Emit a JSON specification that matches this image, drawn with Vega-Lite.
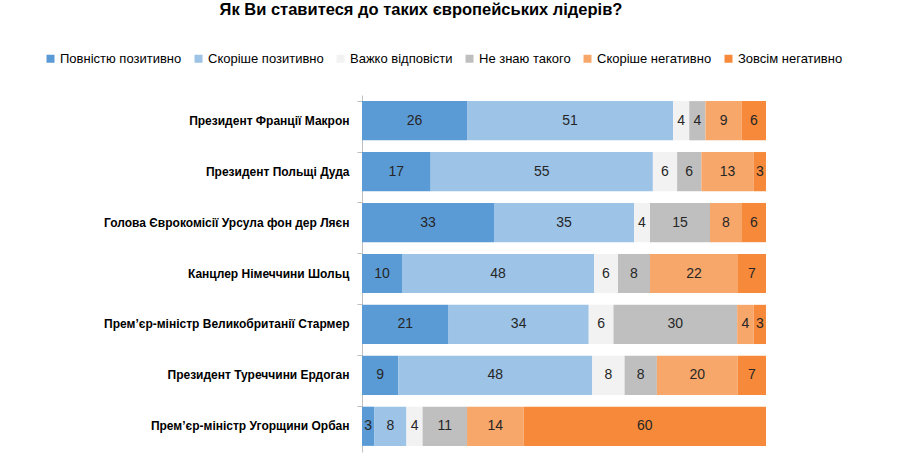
{
  "$schema": "https://vega.github.io/schema/vega-lite/v6.json",
  "autosize": "none",
  "width": 404,
  "height": 357,
  "padding": {"left": 362, "top": 95, "right": 140, "bottom": 24},
  "background": "#ffffff",
  "title": {
    "text": "Як Ви ставитеся до таких європейських лідерів?",
    "anchor": "middle",
    "dx": -143,
    "font": "Liberation Sans",
    "fontSize": 16.5,
    "fontWeight": "bold",
    "color": "#000000",
    "offset": 34
  },
  "data": {
    "values": [
      {"leader": "Президент Франції Макрон", "cat": "Повністю позитивно", "k": 1, "v": 26},
      {"leader": "Президент Франції Макрон", "cat": "Скоріше позитивно", "k": 2, "v": 51},
      {"leader": "Президент Франції Макрон", "cat": "Важко відповісти", "k": 3, "v": 4},
      {"leader": "Президент Франції Макрон", "cat": "Не знаю такого", "k": 4, "v": 4},
      {"leader": "Президент Франції Макрон", "cat": "Скоріше негативно", "k": 5, "v": 9},
      {"leader": "Президент Франції Макрон", "cat": "Зовсім негативно", "k": 6, "v": 6},
      {"leader": "Президент Польщі Дуда", "cat": "Повністю позитивно", "k": 1, "v": 17},
      {"leader": "Президент Польщі Дуда", "cat": "Скоріше позитивно", "k": 2, "v": 55},
      {"leader": "Президент Польщі Дуда", "cat": "Важко відповісти", "k": 3, "v": 6},
      {"leader": "Президент Польщі Дуда", "cat": "Не знаю такого", "k": 4, "v": 6},
      {"leader": "Президент Польщі Дуда", "cat": "Скоріше негативно", "k": 5, "v": 13},
      {"leader": "Президент Польщі Дуда", "cat": "Зовсім негативно", "k": 6, "v": 3},
      {"leader": "Голова Єврокомісії Урсула фон дер Ляєн", "cat": "Повністю позитивно", "k": 1, "v": 33},
      {"leader": "Голова Єврокомісії Урсула фон дер Ляєн", "cat": "Скоріше позитивно", "k": 2, "v": 35},
      {"leader": "Голова Єврокомісії Урсула фон дер Ляєн", "cat": "Важко відповісти", "k": 3, "v": 4},
      {"leader": "Голова Єврокомісії Урсула фон дер Ляєн", "cat": "Не знаю такого", "k": 4, "v": 15},
      {"leader": "Голова Єврокомісії Урсула фон дер Ляєн", "cat": "Скоріше негативно", "k": 5, "v": 8},
      {"leader": "Голова Єврокомісії Урсула фон дер Ляєн", "cat": "Зовсім негативно", "k": 6, "v": 6},
      {"leader": "Канцлер Німеччини Шольц", "cat": "Повністю позитивно", "k": 1, "v": 10},
      {"leader": "Канцлер Німеччини Шольц", "cat": "Скоріше позитивно", "k": 2, "v": 48},
      {"leader": "Канцлер Німеччини Шольц", "cat": "Важко відповісти", "k": 3, "v": 6},
      {"leader": "Канцлер Німеччини Шольц", "cat": "Не знаю такого", "k": 4, "v": 8},
      {"leader": "Канцлер Німеччини Шольц", "cat": "Скоріше негативно", "k": 5, "v": 22},
      {"leader": "Канцлер Німеччини Шольц", "cat": "Зовсім негативно", "k": 6, "v": 7},
      {"leader": "Прем’єр-міністр Великобританії Стармер", "cat": "Повністю позитивно", "k": 1, "v": 21},
      {"leader": "Прем’єр-міністр Великобританії Стармер", "cat": "Скоріше позитивно", "k": 2, "v": 34},
      {"leader": "Прем’єр-міністр Великобританії Стармер", "cat": "Важко відповісти", "k": 3, "v": 6},
      {"leader": "Прем’єр-міністр Великобританії Стармер", "cat": "Не знаю такого", "k": 4, "v": 30},
      {"leader": "Прем’єр-міністр Великобританії Стармер", "cat": "Скоріше негативно", "k": 5, "v": 4},
      {"leader": "Прем’єр-міністр Великобританії Стармер", "cat": "Зовсім негативно", "k": 6, "v": 3},
      {"leader": "Президент Туреччини Ердоган", "cat": "Повністю позитивно", "k": 1, "v": 9},
      {"leader": "Президент Туреччини Ердоган", "cat": "Скоріше позитивно", "k": 2, "v": 48},
      {"leader": "Президент Туреччини Ердоган", "cat": "Важко відповісти", "k": 3, "v": 8},
      {"leader": "Президент Туреччини Ердоган", "cat": "Не знаю такого", "k": 4, "v": 8},
      {"leader": "Президент Туреччини Ердоган", "cat": "Скоріше негативно", "k": 5, "v": 20},
      {"leader": "Президент Туреччини Ердоган", "cat": "Зовсім негативно", "k": 6, "v": 7},
      {"leader": "Прем’єр-міністр Угорщини Орбан", "cat": "Повністю позитивно", "k": 1, "v": 3},
      {"leader": "Прем’єр-міністр Угорщини Орбан", "cat": "Скоріше позитивно", "k": 2, "v": 8},
      {"leader": "Прем’єр-міністр Угорщини Орбан", "cat": "Важко відповісти", "k": 3, "v": 4},
      {"leader": "Прем’єр-міністр Угорщини Орбан", "cat": "Не знаю такого", "k": 4, "v": 11},
      {"leader": "Прем’єр-міністр Угорщини Орбан", "cat": "Скоріше негативно", "k": 5, "v": 14},
      {"leader": "Прем’єр-міністр Угорщини Орбан", "cat": "Зовсім негативно", "k": 6, "v": 60}
    ]
  },
  "encoding": {
    "y": {
      "field": "leader",
      "type": "nominal",
      "sort": null,
      "title": null,
      "scale": {"paddingInner": 0.23, "paddingOuter": 0.12},
      "axis": {
        "bandPosition": 0,
        "domainColor": "#bfbfbf",
        "tickColor": "#bfbfbf",
        "tickSize": 5,
        "labelPadding": 8,
        "labelFont": "Liberation Sans",
        "labelFontSize": 12,
        "labelFontWeight": "bold",
        "labelColor": "#000000",
        "labelLimit": 400
      }
    },
    "x": {
      "field": "v",
      "type": "quantitative",
      "stack": "normalize",
      "axis": null
    },
    "order": {"field": "k", "type": "quantitative"}
  },
  "layer": [
    {
      "mark": {"type": "bar"},
      "encoding": {
        "color": {
          "field": "cat",
          "type": "nominal",
          "sort": ["Повністю позитивно", "Скоріше позитивно", "Важко відповісти", "Не знаю такого", "Скоріше негативно", "Зовсім негативно"],
          "scale": {
            "domain": ["Повністю позитивно", "Скоріше позитивно", "Важко відповісти", "Не знаю такого", "Скоріше негативно", "Зовсім негативно"],
            "range": ["#5b9bd5", "#9dc3e6", "#f2f2f2", "#bfbfbf", "#f8a76b", "#f68a3a"]
          },
          "legend": {
            "title": null,
            "orient": "none",
            "direction": "horizontal",
            "legendX": -318,
            "legendY": -43,
            "symbolType": "square",
            "symbolSize": 64,
            "symbolStrokeWidth": 0,
            "labelFont": "Liberation Sans",
            "labelFontSize": 13,
            "labelColor": "#000000",
            "labelOffset": 3,
            "columnPadding": 10,
            "labelLimit": 300
          }
        }
      }
    },
    {
      "mark": {
        "type": "text",
        "font": "Liberation Sans",
        "fontSize": 14,
        "color": "#262626"
      },
      "encoding": {
        "x": {"field": "v", "type": "quantitative", "stack": "normalize", "bandPosition": 0.5},
        "text": {"field": "v", "type": "quantitative"}
      }
    }
  ],
  "config": {
    "view": {"stroke": null}
  }
}
